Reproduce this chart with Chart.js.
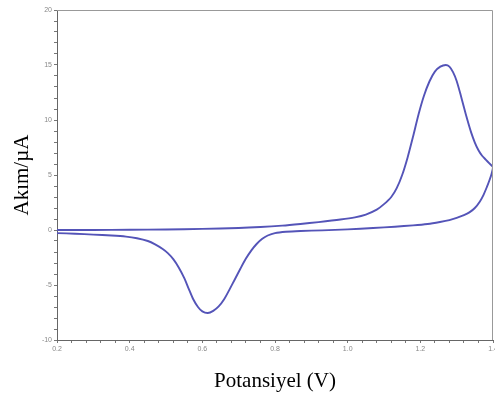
<!DOCTYPE html>
<html>
<head>
<meta charset="utf-8">
<script src="https://cdn.jsdelivr.net/npm/chart.js@4"></script>
<style>
html,body{margin:0;padding:0;background:#fff;}
canvas{display:block;}
</style>
</head>
<body>
<canvas id="c" width="495" height="394"></canvas>
<script>
// Forward (anodic) scan
const potentialForward = [0.20,0.30,0.40,0.50,0.60,0.70,0.76,0.82,0.87,0.92,0.98,1.02,1.05,1.08,1.10,1.12,1.135,1.15,1.165,1.18,1.195,1.21,1.225,1.24,1.255,1.27,1.28,1.29,1.30,1.31,1.32,1.33,1.34,1.35,1.36,1.37,1.38,1.39,1.40];
const currentForward   = [0.00,0.00,0.02,0.05,0.10,0.18,0.27,0.40,0.55,0.72,0.95,1.15,1.40,1.85,2.35,3.00,3.80,5.00,6.60,8.50,10.5,12.2,13.5,14.4,14.85,15.0,14.85,14.35,13.55,12.4,11.15,9.95,8.85,7.95,7.25,6.75,6.4,6.05,5.7];
// Reverse (cathodic) scan
const potentialReverse = [1.400,1.396,1.390,1.383,1.374,1.364,1.350,1.335,1.320,1.300,1.280,1.254,1.220,1.180,1.130,1.070,1.000,0.930,0.870,0.830,0.800,0.780,0.765,0.750,0.735,0.720,0.705,0.690,0.675,0.660,0.645,0.630,0.615,0.600,0.588,0.575,0.562,0.550,0.535,0.520,0.505,0.490,0.470,0.450,0.420,0.390,0.350,0.300,0.250,0.200];
const currentReverse   = [5.7,5.1,4.5,3.9,3.2,2.6,2.0,1.6,1.35,1.1,0.9,0.73,0.55,0.42,0.30,0.18,0.06,-0.03,-0.09,-0.16,-0.28,-0.50,-0.80,-1.25,-1.85,-2.6,-3.5,-4.45,-5.4,-6.3,-6.95,-7.35,-7.55,-7.4,-7.0,-6.3,-5.3,-4.35,-3.4,-2.65,-2.1,-1.7,-1.3,-1.0,-0.75,-0.6,-0.5,-0.42,-0.34,-0.28];
// Axis labels
const xTickLabels = ['0.2','0.4','0.6','0.8','1.0','1.2','1.4'];
const yTickLabels = ['-10','-5','0','5','10','15','20'];
const xTitle = 'Potansiyel (V)';
const yTitle = 'Akım/µA';

const loop = [];
potentialForward.forEach((x,i)=>loop.push({x:x,y:currentForward[i]}));
potentialReverse.forEach((x,i)=>{ if(i>0) loop.push({x:x,y:currentReverse[i]}); });

const frame = {
  id:'frame',
  afterDraw(chart){
    const {ctx, chartArea:a} = chart;
    ctx.save();
    ctx.strokeStyle = '#999';
    ctx.lineWidth = 1;
    ctx.beginPath();
    ctx.moveTo(a.left, a.top+0.5);
    ctx.lineTo(a.right-0.5, a.top+0.5);
    ctx.lineTo(a.right-0.5, a.bottom);
    ctx.stroke();
    ctx.restore();
  }
};

new Chart(document.getElementById('c'), {
  type:'scatter',
  data:{datasets:[{
    data:loop,
    showLine:true,
    borderColor:'#5454b8',
    borderWidth:1.9,
    pointRadius:0,
    tension:0.25,
    fill:false
  }]},
  options:{
    responsive:false,
    animation:false,
    layout:{padding:{top:10,right:2,left:0,bottom:0}},
    plugins:{legend:{display:false},tooltip:{enabled:false}},
    scales:{
      x:{
        type:'linear',
        min:0.2,max:1.4,
        afterFit(s){ s.height=54; s.paddingLeft=0; s.paddingRight=0; },
        border:{display:true,color:'#666',width:1},
        grid:{drawOnChartArea:false,drawTicks:true,tickLength:3,color:'#777'},
        ticks:{
          stepSize:0.04,autoSkip:false,maxRotation:0,padding:2,
          color:'#888',font:{family:'Liberation Sans',size:7},
          callback(v){ const r=Math.round(v*100); if(r%20===0){ const idx=(r-20)/20; return xTickLabels[idx]; } return ''; }
        },
        title:{display:true,text:xTitle,color:'#000',font:{family:'Liberation Serif',size:21},padding:{top:0,bottom:0}}
      },
      y:{
        type:'linear',
        min:-10,max:20,
        afterFit(s){ s.width=57; s.paddingTop=0; s.paddingBottom=0; },
        border:{display:true,color:'#666',width:1},
        grid:{drawOnChartArea:false,drawTicks:true,tickLength:3,color:'#777'},
        ticks:{
          stepSize:1,autoSkip:false,padding:2,
          color:'#888',font:{family:'Liberation Sans',size:7},
          callback(v){ const r=Math.round(v); if(r%5===0){ return yTickLabels[(r+10)/5]; } return ''; }
        },
        title:{display:true,text:yTitle,color:'#000',font:{family:'Liberation Serif',size:21},padding:{top:10,bottom:0}}
      }
    }
  },
  plugins:[frame]
});
</script>
</body>
</html>
